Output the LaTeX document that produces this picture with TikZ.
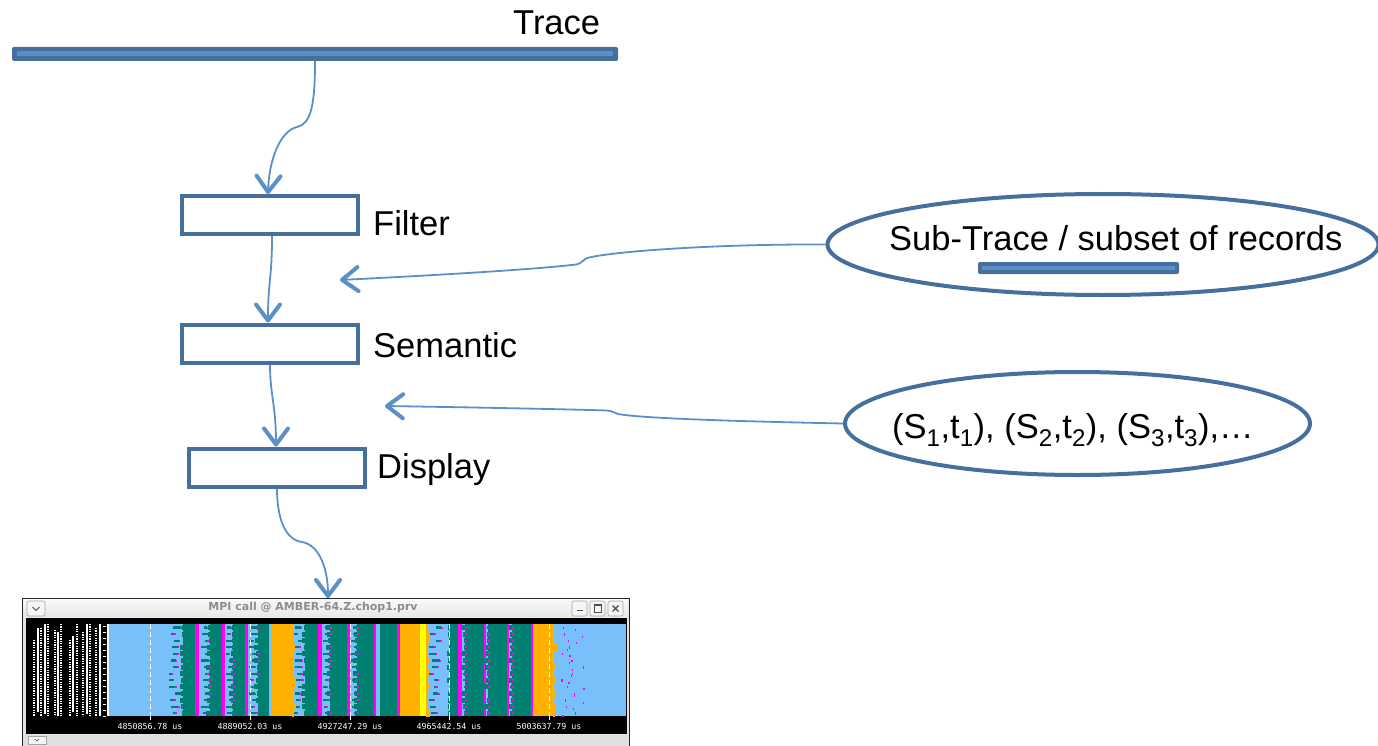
\documentclass[tikz,border=0pt]{standalone}
\usepackage{fontspec}
\setmainfont{Liberation Sans}
\newfontfamily\monof{DejaVu Sans Mono}
\newfontfamily\winf{DejaVu Sans}
\usetikzlibrary{arrows.meta,shapes.geometric}
\definecolor{boxblue}{RGB}{70,111,157}
\definecolor{arrowblue}{RGB}{91,143,199}
\definecolor{barlight}{RGB}{92,142,200}
\definecolor{plotblue}{RGB}{120,192,250}
\definecolor{tealc}{RGB}{0,128,112}
\definecolor{magc}{RGB}{255,0,255}
\definecolor{orangec}{RGB}{255,176,0}
\definecolor{yellowc}{RGB}{255,255,0}
\definecolor{titlegray}{RGB}{140,140,140}
\begin{document}
\begin{tikzpicture}[x=1pt,y=-1pt,
  stagebox/.style={draw=boxblue, line width=4pt, minimum width=176pt, minimum height=38pt, inner sep=0pt},
  lbl/.style={font=\fontsize{34.5}{40}\selectfont, anchor=base west, inner sep=0pt},
  flow/.style={draw=arrowblue, line width=1.8pt, -{Straight Barb[length=16pt,width=24pt,line width=4pt,round]}},
  oval/.style={draw=boxblue, line width=4pt, ellipse, inner sep=0pt},
  tracebar/.style={fill=boxblue, rounded corners=2pt, inner sep=0pt},
  winbtn/.style={draw=gray!70, fill=gray!8, rounded corners=2pt, line width=0.6pt},
  tlabel/.style={font=\monof\fontsize{8.3}{9}\selectfont, text=white, inner sep=0pt}
  ]
\useasboundingbox (0,0) rectangle (1378,746);

% ---------- Trace ----------
\node[lbl] (tracelbl) at (513,35) {Trace};
\node[tracebar, minimum width=606pt, minimum height=14pt] (trace) at (315,54) {};
\draw[barlight, line width=5pt] ([xshift=5pt]trace.west) -- ([xshift=-5pt]trace.east);

% ---------- stages ----------
\node[stagebox] (filter) at (270,215) {};
\node[lbl] (filterlbl) at (373,235) {Filter};
\node[stagebox] (semantic) at (270,343.5) {};
\node[lbl] (semanticlbl) at (373,357) {Semantic};
\node[stagebox] (display) at (277,467.5) {};
\node[lbl] (displaylbl) at (377,478) {Display};

% ---------- ellipses ----------
\node[oval, minimum width=551pt, minimum height=101pt] (sub) at (1103,244.5) {};
\node[lbl] (subtxt) at (889,250) {Sub-Trace / subset of records};
\node[tracebar, minimum width=201pt, minimum height=12pt] (subbar) at (1078.5,268) {};
\draw[barlight, line width=4pt] ([xshift=4pt]subbar.west) -- ([xshift=-4pt]subbar.east);

\node[oval, minimum width=465pt, minimum height=103pt] (pairs) at (1077.5,423.5) {};
\node[lbl] (pairstxt) at (892,438) {(S\textsubscript{1},t\textsubscript{1}), (S\textsubscript{2},t\textsubscript{2}), (S\textsubscript{3},t\textsubscript{3}),…};

% ---------- screenshot window ----------
\node[draw=black!85, line width=1pt, fill=gray!22, minimum width=607pt, minimum height=148pt, inner sep=0pt, anchor=north west] (win) at (22,598) {};
\shade[top color=gray!5, bottom color=gray!20] (23,599) rectangle (628,618);
\node[font=\winf\bfseries\fontsize{11}{12}\selectfont, text=titlegray, inner sep=0pt] (title) at (313,607) {MPI call @ AMBER-64.Z.chop1.prv};
\draw[winbtn] (27,601) rectangle (45,616);
\draw[gray!60!black, line width=0.9pt] (32.5,607) -- (36,610.5) -- (39.5,607);
\draw[winbtn] (572,601) rectangle (587,616);
\draw[gray!60!black, line width=1.2pt] (576.5,610.5) -- (582.5,610.5);
\draw[winbtn] (590,601) rectangle (605,616);
\draw[gray!60!black, line width=0.8pt] (594,604.5) rectangle (601,612);
\draw[gray!60!black, line width=1.6pt] (594,605) -- (601,605);
\draw[winbtn] (608,601) rectangle (623,616);
\draw[gray!60!black, line width=1.2pt] (612.5,605.5) -- (618.5,611.5) (618.5,605.5) -- (612.5,611.5);

\fill[black] (26,618) rectangle (627,734);
\fill[plotblue] (109,624) rectangle (626,716);
\fill[white] (107,624) rectangle (109,716);

% left labels (unreadable rotated names)
\foreach \x/\ya in {34/640,41/628,48/624,55/630,61/624,
                    70/640,77/624,83/632,90/624,96/628}
  \draw[white, line width=1.1pt, dash pattern=on 1.2pt off 1.2pt] (\x,\ya) -- (\x,716);
\foreach \x/\ya/\yb in {38/628/712,45/624/714,58/632/716,73/636/712,87/624/714,100/624/716}
  \draw[white, line width=1.4pt] (\x,\ya) -- (\x,\yb);
\foreach \y in {626,632,...,716}
  \draw[white, line width=1pt] (103,\y) -- (106,\y);

% colour bands
\foreach \a/\b in {183/195,210/222,233/245,258/269,305/318,330/347,357/374,380/397,450/458,465/484,488/507,512/531}
  \fill[tealc] (\a,624) rectangle (\b,716);
\foreach \a/\b in {195/199,222/225,245/247.5,318/322,347/350,374/376,397/400,458/462,484/486,507/509,531/533}
  \fill[magc] (\a,624) rectangle (\b,716);
\foreach \a/\b in {271/292,400/420,533/553}
  \fill[orangec] (\a,624) rectangle (\b,716);
\fill[yellowc] (420,624) rectangle (426,716);

\pgfmathsetseed{11}
\foreach \r in {0,...,13}{
  \pgfmathsetmacro{\yy}{627.5+6.6*\r}
  \foreach \a/\b in {168/183,200/210,225/233,247.5/258,292/305,322/330,350/357,427/450,462/465,486/488,509/512}{
    \pgfmathsetmacro{\u}{\a+1+rnd*(\b-\a)*0.45}
    \pgfmathsetmacro{\v}{min(\u+2.5+rnd*5,\b)}
    \draw[tealc, line width=2.3pt] (\u,\yy) -- (\v,\yy);
    \fill[magc] (\v,\yy-1) rectangle (\v+1.5,\yy+1);
    \pgfmathsetmacro{\w}{\b-rnd*4}
    \fill[tealc] (\w,\yy-2.5) rectangle (\b,\yy+2.5);
  }
  \foreach \c in {292,426,553}{
    \pgfmathsetmacro{\e}{\c+rnd*4.5}
    \fill[orangec] (\c,\yy-3.3) rectangle (\e,\yy+3.3);
  }
  \pgfmathsetmacro{\p}{560+rnd*24}
  \pgfmathsetmacro{\q}{562+rnd*22}
  \fill[magc] (\p,\yy-1) rectangle (\p+1.2,\yy+1.5);
  \fill[magc] (\q,\yy+1.5) rectangle (\q+1.2,\yy+3.5);
}
\fill[yellowc] (420,624) rectangle (426,716);

% time axis
\foreach \x/\t in {150/4850856.78 us,250/4889052.03 us,350/4927247.29 us,449/4965442.54 us,549/5003637.79 us}{
  \draw[white, line width=1pt, dash pattern=on 5pt off 3pt] (\x,624) -- (\x,716);
  \draw[white, line width=1pt] (\x,716) -- (\x,720);
  \node[tlabel] at (\x,726.5) {\t};
}

% bottom bar
\fill[gray!25] (23,734.5) rectangle (628,745.5);
\draw[winbtn, rounded corners=0pt] (28,736) rectangle (46,744);
\draw[gray!60!black, line width=0.6pt] (35,739) -- (37,741) -- (39,739);

% ---------- connectors ----------
\draw[flow] (trace.south) .. controls (315,105) and (311,124) .. (297,127)
            .. controls (280,131) and (269,160) .. ([xshift=-2pt]filter.north);
\draw[flow] ([xshift=2pt]filter.south) .. controls (272,280) and (268,280) .. ([xshift=-2pt]semantic.north);
\draw[flow] (semantic.south) .. controls (270,395) and (276,405) .. ([xshift=-1pt]display.north);
\draw[flow] (display.south) .. controls (277,520) and (286,540) .. (302,542)
            .. controls (320,545) and (328,570) .. ([xshift=2pt]win.north);

\coordinate (t1) at (340,280);
\draw[flow] (sub.west) .. controls (700,244) and (600,253) .. (586,258.5)
            .. controls (582,260) and (583,263) .. (576,264.5)
            .. controls (530,270) and (420,276) .. (t1);
\coordinate (t2) at (385,406);
\draw[flow] (pairs.west) .. controls (720,421) and (640,418) .. (618,414)
            .. controls (614,413) and (613,411) .. (607,410.5)
            .. controls (560,409) and (450,407) .. (t2);
\end{tikzpicture}
\end{document}
